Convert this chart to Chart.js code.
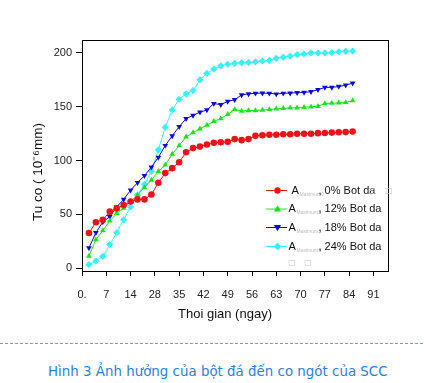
<!DOCTYPE html>
<html>
<head>
<meta charset="utf-8">
<script src="https://cdn.jsdelivr.net/npm/chart.js@4/dist/chart.umd.min.js"></script>
<style>
  html,body{margin:0;padding:0;background:#fff;width:424px;height:383px;overflow:hidden;position:relative;}
  #wrap{position:absolute;left:0;top:0;width:424px;height:335px;}
  #dash{position:absolute;left:0;top:343px;width:424px;height:1px;
        background:repeating-linear-gradient(to right,#8a9bb8 0 3px,transparent 3px 5px);}
  #cap{position:absolute;left:48px;top:364px;font-family:"DejaVu Sans",Verdana,sans-serif;font-size:13.4px;color:#2f7fd3;white-space:nowrap;}
</style>
</head>
<body>
<div id="wrap"><canvas id="c" width="424" height="335"></canvas></div>
<div id="dash"></div>
<div id="cap">Hình 3 Ảnh hưởng của bột đá đến co ngót của SCC</div>
<script>
const days = [2,4,6,8,10,12,14,16,18,20,22,24,26,28,30,32,34,36,38,40,42,44,46,48,50,52,54,56,58,60,62,64,66,68,70,72,74,76,78];
const seriesNames = ["0% Bot da","12% Bot da","18% Bot da","24% Bot da"];
const bot0 = [32.8,42.8,45,52.6,55.5,58.7,62,64,64,68.5,79.5,88.4,93,98.5,107.7,111.6,113,115,116.5,117,117.5,120,119,120,123,123.6,124,124,124.5,124.5,125,125,125,125.5,125.7,126,126.3,126.5,127];
const bot12 = [11.4,26.6,35,44,51,56,62,68,75,82,90,96,106,114,122,126,129.5,133,136.5,139,143,147.5,146,146.5,146.5,147,147.5,148,148.5,149,149,149.5,150,150.5,153,153.3,153.6,154,155.7];
const bot18 = [19,33,43,48,57,64,72.5,79.5,86,94,103,114,123,131.5,139,142,145,147,153,152,155,156.6,161,162,162.5,162.7,162.5,161.8,162.5,162.7,163,163.3,164,165.8,168,168,168.8,170,172];
const bot24 = [3.5,6.8,11,22,33,45,57,68,78,90,110,131,147,157,162,165,175,181,185,188,189.5,190.3,190.8,191,191.7,192.5,193,195,196,197,198.5,199,200,200,200,200.3,201,201.5,201.8];
const xTickValues = [0,7,14,21,28,35,42,49,56,63,70,77,84];
const xTickLabels = ["0.","7","14","28","35","42","49","56","63","70","77","84","91"];
const yTickValues = [0,50,100,150,200];

const colors = ["#e8141c","#1fe01f","#0b0bd2","#38f2f6"];
const shapes = ["circle","triangle","triangleDown","rectRot"];
const valueSets = [bot0,bot12,bot18,bot24];

function pts(vals){ return days.map((d,i)=>({x:d,y:vals[i]})); }

function drawMarker(ctx, shape, x, y, r, color){
  ctx.save();
  ctx.fillStyle = color; ctx.strokeStyle = color; ctx.lineWidth = 1;
  ctx.beginPath();
  if(shape==="circle"){ ctx.arc(x,y,r,0,Math.PI*2); }
  else if(shape==="triangle"){ ctx.moveTo(x,y-r*1.2); ctx.lineTo(x+r*1.15,y+r*0.8); ctx.lineTo(x-r*1.15,y+r*0.8); ctx.closePath(); }
  else if(shape==="triangleDown"){ ctx.moveTo(x,y+r*1.2); ctx.lineTo(x+r*1.15,y-r*0.8); ctx.lineTo(x-r*1.15,y-r*0.8); ctx.closePath(); }
  else { ctx.moveTo(x,y-r*1.2); ctx.lineTo(x+r*1.2,y); ctx.lineTo(x,y+r*1.2); ctx.lineTo(x-r*1.2,y); ctx.closePath(); }
  ctx.fill();
  ctx.restore();
}

const extras = {
  id:'extras',
  afterDraw(chart){
    const ctx = chart.ctx, a = chart.chartArea;
    ctx.save();
    ctx.strokeStyle = '#000'; ctx.lineWidth = 1;
    ctx.strokeRect(Math.round(a.left)+0.5, Math.round(a.top)+0.5, Math.round(a.right-a.left), Math.round(a.bottom-a.top));
    ctx.fillStyle = '#111';
    ctx.font = '13px "Liberation Sans", Arial, sans-serif';
    ctx.textAlign = 'center'; ctx.textBaseline = 'middle';
    ctx.fillText('Thoi gian (ngay)', 225, 314);
    ctx.save();
    ctx.translate(38, 172); ctx.rotate(-Math.PI/2);
    ctx.font = '13.5px "Liberation Sans", Arial, sans-serif';
    ctx.fillText('Tu co ( 10\u207B\u2076mm)', 0, 0);
    ctx.restore();
    const rows = [190.5, 209, 227.5, 246.5];
    const aX = [291.5, 288.5, 288.5, 288.5];
    for(let i=0;i<4;i++){
      const y = rows[i];
      ctx.strokeStyle = colors[i]; ctx.lineWidth = 1;
      ctx.beginPath(); ctx.moveTo(266, y); ctx.lineTo(287, y); ctx.stroke();
      drawMarker(ctx, shapes[i], 277.5, y, 3.2, colors[i]);
      ctx.fillStyle = '#111'; ctx.textAlign = 'left'; ctx.textBaseline = 'middle';
      ctx.font = '11px "Liberation Sans", Arial, sans-serif';
      ctx.fillText('A', aX[i], y);
      ctx.fillStyle = '#b8b8c8'; ctx.font = '5px "Liberation Sans", Arial, sans-serif';
      ctx.fillText('Maximum'+(i===0?'0':String(i+1)), aX[i]+8, y+4);
      ctx.fillStyle = '#111'; ctx.font = '11px "Liberation Sans", Arial, sans-serif';
      ctx.fillText(', ' + seriesNames[i], 318.5, y);
    }
    ctx.fillStyle = '#c4c4c4'; ctx.font = '8px "DejaVu Sans", sans-serif';
    ctx.textAlign = 'center';
    ctx.fillText('\u25A1', 372, 190.5);
    ctx.fillText('\u25A1', 389, 190.5);
    ctx.fillText('\u25A1', 292, 262.5);
    ctx.fillText('\u25A1', 308, 262.5);
    ctx.restore();
  }
};

Chart.defaults.font.family = '"Liberation Sans", Arial, sans-serif';
new Chart(document.getElementById('c'), {
  type: 'line',
  data: {
    datasets: valueSets.map((v,i)=>({
      label: seriesNames[i],
      data: pts(v),
      borderColor: colors[i],
      backgroundColor: colors[i],
      borderWidth: 1,
      pointStyle: shapes[i]==='triangleDown' ? 'triangle' : shapes[i],
      rotation: shapes[i]==='triangleDown' ? 180 : 0,
      pointRadius: shapes[i]==='rectRot' ? 3.6 : 3.3,
      pointBorderWidth: 0,
      tension: 0,
      clip: false
    }))
  },
  options: {
    responsive: false,
    animation: false,
    devicePixelRatio: 1,
    layout: { padding: { top: 40, right: 36, left: 0, bottom: 0 } },
    plugins: { legend: { display: false }, tooltip: { enabled: false } },
    scales: {
      x: {
        type: 'linear', min: 0, max: 88.2,
        afterBuildTicks: s => { s.ticks = xTickValues.map(v=>({value:v})); },
        afterFit: s => { s.height = 64; },
        grid: { display: true, drawOnChartArea: false, drawTicks: true, tickLength: 5, color: '#000' },
        border: { display: false },
        ticks: { color: '#222', font: { size: 11 }, padding: 12, maxRotation: 0, autoSkip: false,
                 callback: (v, idx) => xTickLabels[idx] }
      },
      y: {
        type: 'linear', min: -2.5, max: 212,
        afterBuildTicks: s => { s.ticks = yTickValues.map(v=>({value:v})); },
        afterFit: s => { s.width = 82; },
        grid: { display: true, drawOnChartArea: false, drawTicks: true, tickLength: 6, color: '#000' },
        border: { display: false },
        ticks: { color: '#222', font: { size: 11 }, padding: 4 }
      }
    }
  },
  plugins: [extras]
});
</script>
</body>
</html>
